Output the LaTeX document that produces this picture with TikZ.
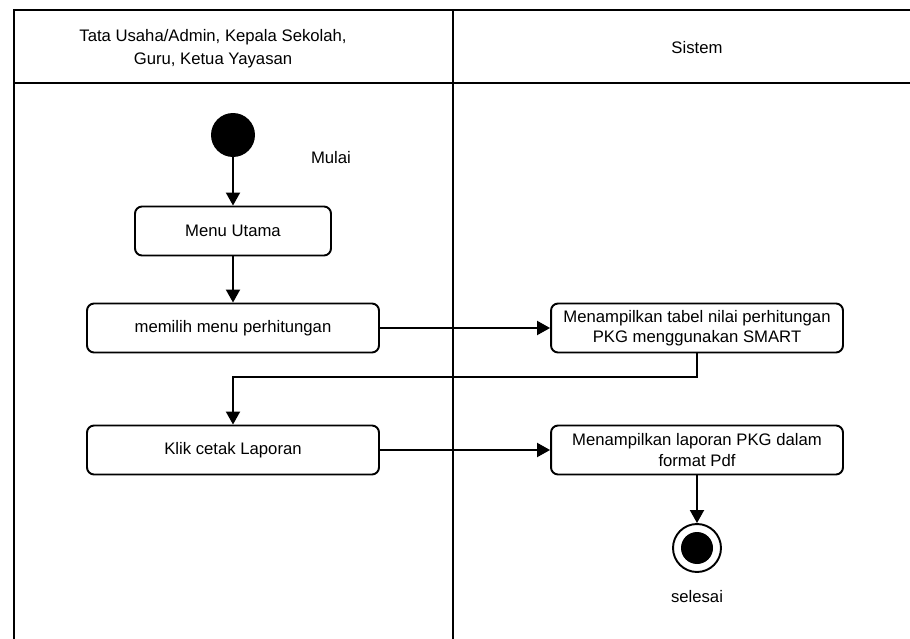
\documentclass[tikz,border=0pt]{standalone}
\usepackage{fontspec}
\setmainfont{Liberation Sans}
\usetikzlibrary{arrows.meta}

\begin{document}
\begin{tikzpicture}[x=0.02cm,y=-0.02cm,
  lane/.style={line width=1.3pt},
  flow/.style={line width=1.1pt,-{Triangle[length=0.26cm,width=0.28cm]}},
  act/.style={draw,line width=1.1pt,rounded corners=0.14cm,minimum width=5.84cm,
    minimum height=0.98cm,align=center,inner sep=1pt,font=\fontsize{9.5}{11.5}\selectfont},
  lbl/.style={align=center,font=\fontsize{9.5}{13}\selectfont},
  startdot/.style={circle,fill=black,minimum size=0.88cm,inner sep=0pt},
  endring/.style={circle,draw,line width=1.1pt,minimum size=0.96cm,inner sep=0pt},
  enddot/.style={circle,fill=black,minimum size=0.64cm,inner sep=0pt}]
\useasboundingbox (0,0) rectangle (910,639);
% swimlanes
\draw[lane] (14,639) -- (14,10) -- (910,10);
\draw[lane] (14,83) -- (910,83);
\draw[lane] (453,10) -- (453,639);
\node[lbl] (laneuser) at (213,49) {Tata Usaha/Admin, Kepala Sekolah,\\Guru, Ketua Yayasan};
\node[lbl] (lanesys) at (697,48) {Sistem};
% activities
\node[startdot] (start) at (233,135) {};
\node[lbl] (mulai) at (331,158) {Mulai};
\node[act,minimum width=3.92cm] (menu) at (233,231) {Menu Utama};
\node[act] (pilih) at (233,328) {memilih menu perhitungan};
\node[act] (tabel) at (697,328) {Menampilkan tabel nilai perhitungan\\PKG menggunakan SMART};
\node[act] (klik) at (233,450) {Klik cetak Laporan};
\node[act] (laporan) at (697,450) {Menampilkan laporan PKG dalam\\format Pdf};
\node[endring] (finish) at (697,548) {};
\node[enddot] (finishdot) at (finish) {};
\node[lbl] (selesai) at (697,597) {selesai};
% flows
\draw[flow] (start) -- (menu);
\draw[flow] (menu) -- (pilih);
\draw[flow] (pilih) -- (tabel);
\draw[flow] (tabel.south) -- ++(0,24) -| (klik.north);
\draw[flow] (klik) -- (laporan);
\draw[flow] (laporan) -- (finish);
\end{tikzpicture}
\end{document}
